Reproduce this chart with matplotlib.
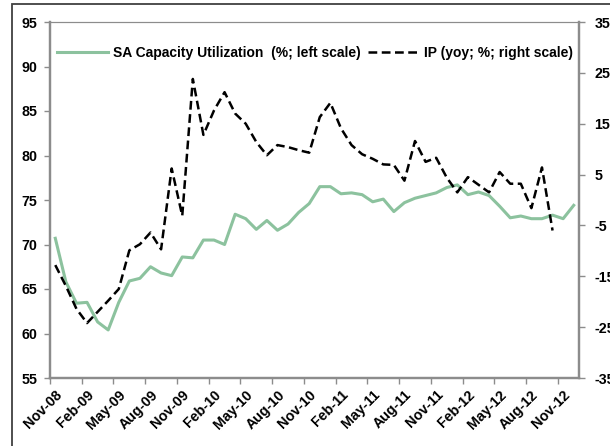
import matplotlib.pyplot as plt
from matplotlib.patches import Rectangle
import numpy as np
import pandas as pd

plt.rcParams['font.family'] = ['Liberation Sans', 'DejaVu Sans']

# monthly, Nov-08 .. Dec-12
months = pd.date_range('2008-11-01', '2012-12-01', freq='MS')
month_labels = [d.strftime('%b-%y') for d in months]

cap_util = [70.7, 65.8, 63.4, 63.5, 61.3, 60.4, 63.5, 65.9, 66.2, 67.5,
            66.8, 66.5, 68.6, 68.5, 70.5, 70.5, 70.0, 73.4, 72.9, 71.7,
            72.7, 71.6, 72.3, 73.6, 74.6, 76.5, 76.5, 75.7, 75.8, 75.6,
            74.8, 75.1, 73.7, 74.7, 75.2, 75.5, 75.8, 76.4, 76.7, 75.6,
            75.9, 75.5, 74.3, 73.0, 73.2, 72.9, 72.9, 73.3, 72.9, 74.4]

# IP yoy, ends Oct-12
ip_yoy = [-12.8, -16.9, -21.4, -24.2, -22.0, -19.8, -17.5, -9.9, -8.7, -6.4,
          -9.7, 6.2, -3.1, 23.8, 12.8, 17.6, 21.2, 17.0, 15.0, 11.4,
          8.8, 10.8, 10.4, 9.8, 9.3, 16.3, 19.1, 14.1, 10.8, 9.0,
          8.1, 7.0, 6.9, 3.8, 11.6, 7.5, 8.3, 4.4, 1.5, 4.5,
          3.0, 1.5, 5.5, 3.2, 3.2, -1.6, 6.4, -6.0]

green = '#8CC29E'
grey = '#8C8C8C'
fs = 10.3

fig = plt.figure(figsize=(6.1, 4.46), dpi=100)
ax = fig.add_axes([50 / 610, 1 - 378 / 446, 529 / 610, 356 / 446])
ax2 = ax.twinx()

x = np.arange(len(months))
l1, = ax.plot(x, cap_util, color=green, lw=2.2,
              label='SA Capacity Utilization  (%; left scale)')
l2, = ax2.plot(x[:len(ip_yoy)], ip_yoy, color='black', lw=1.8,
               dashes=(3.5, 1.8), label='IP (yoy; %; right scale)')

ax.set_xlim(-0.5, len(months) - 0.5)
ax.set_ylim(55, 95)
ax.set_yticks(range(55, 96, 5))
ax2.set_ylim(-35, 35)
ax2.set_yticks(range(-35, 36, 10))

ax.set_xticks(x[::3])
ax.set_xticklabels(month_labels[::3], rotation=45, ha='right',
                   rotation_mode='anchor', fontweight='bold', fontsize=fs)
ax.set_yticklabels([str(v) for v in range(55, 96, 5)],
                   fontweight='bold', fontsize=fs)
ax2.set_yticklabels([str(v) for v in range(-35, 36, 10)],
                    fontweight='bold', fontsize=fs, ha='left')
ax.set_xticks(np.arange(-0.5, len(months), 3), minor=True)
ax.tick_params(axis='x', which='major', length=0, pad=7)
ax.tick_params(axis='x', which='minor', length=4, width=1, color=grey)
ax.tick_params(axis='y', length=4, width=1, color=grey, pad=5)
ax2.tick_params(axis='y', length=4, width=1, color=grey, pad=7)

for a in (ax, ax2):
    for s in ('left', 'bottom', 'right'):
        a.spines[s].set_color(grey)
        a.spines[s].set_linewidth(1.6)
    a.spines['top'].set_color(grey)
    a.spines['top'].set_linewidth(0.8)

ax.legend(handles=[l1, l2], loc='upper left', bbox_to_anchor=(-0.005, 0.96),
          ncol=2, frameon=False, prop={'size': 10, 'weight': 'bold'},
          handlelength=3.7, handletextpad=0.35, columnspacing=0.5,
          borderaxespad=0.3)

# outer chart border
fig.patches.append(Rectangle((12 / 610, -0.05), 1.0, 1 - 4 / 446 + 0.05,
                             transform=fig.transFigure, fill=False,
                             edgecolor='#404040', lw=1.3))

fig.savefig('out.png', dpi=100)
